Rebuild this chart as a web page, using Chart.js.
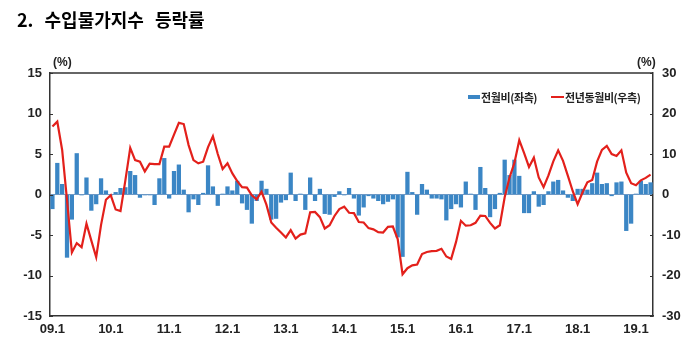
<!DOCTYPE html>
<html><head><meta charset="utf-8">
<script src="https://cdn.jsdelivr.net/npm/chart.js@4/dist/chart.umd.min.js"></script>
<style>
html,body{margin:0;padding:0;background:#fff;}
#wrap{position:relative;width:696px;height:353px;overflow:hidden;background:#fff;}
canvas{position:absolute;left:0;top:0;}
.t{position:absolute;white-space:nowrap;color:#111;}
#title{left:17px;top:10px;font:700 18px/18px 'Noto Sans CJK KR',sans-serif;word-spacing:7px;color:#000;}
.pct{top:56px;font:700 12px/12px 'Liberation Sans Narrow','Liberation Sans',Arial,sans-serif;color:#222;}
.lg{top:91px;font:700 11px/12px 'Noto Sans CJK KR',sans-serif;letter-spacing:-0.4px;color:#222;}
</style></head>
<body><div id="wrap">
<canvas id="c" width="696" height="353"></canvas>
<div class="t" id="title">2. 수입물가지수 등락률</div>
<div class="t pct" style="left:53px">(%)</div>
<div class="t pct" style="left:637px">(%)</div>
<div style="position:absolute;left:468px;top:95px;width:12px;height:4px;background:#3b86c5"></div>
<div class="t lg" style="left:481px">전월비(좌측)</div>
<div style="position:absolute;left:551px;top:96px;width:13px;height:2px;background:#e3201b"></div>
<div class="t lg" style="left:565px">전년동월비(우측)</div>
</div>
<script>
// categories: monthly, 2009.01 - 2019.04
const years = ['09','10','11','12','13','14','15','16','17','18','19'];
const monthsInLastYear = 4;
const categories = [];
years.forEach((y, yi) => {
  const n = yi === years.length - 1 ? monthsInLastYear : 12;
  for (let m = 1; m <= n; m++) categories.push(y + '.' + m);
});

// 전월비 (left axis, %)
const mom = [
  -1.8, 3.9, 1.3, -7.8, -3.1, 5.1, -0.1, 2.1, -2.0, -1.2, 2.0, 0.5,
  -0.1, 0.3, 0.8, 0.9, 2.9, 2.4, -0.4, -0.1, -0.1, -1.3, 2.0, 4.5,
  -0.5, 2.9, 3.7, 0.6, -2.2, -0.6, -1.3, 0.2, 3.6, 1.0, -1.4, 0.1,
  1.0, 0.5, 1.7, -1.1, -1.9, -3.6, -0.8, 1.7, 0.7, -3.1, -3.0, -1.0,
  -0.7, 2.7, -0.8, 0.1, -1.9, 2.1, -0.8, 0.7, -2.4, -2.5, -0.3, 0.4,
  -0.1, 0.8, -0.5, -2.6, -1.6, -0.2, -0.5, -0.8, -1.2, -0.9, -0.6, -5.3,
  -7.7, 2.8, 0.3, -2.5, 1.3, 0.6, -0.5, -0.5, -0.6, -3.2, -1.8, -1.2,
  -1.6, 1.6, 0.1, -1.9, 3.4, 0.8, -2.8, -1.8, 0.2, 4.3, 2.4, 4.3,
  2.3, -2.3, -2.3, 0.4, -1.5, -1.3, 0.4, 1.6, 1.8, 0.5, -0.4, -0.8,
  0.7, 0.7, 0.6, 1.4, 2.7, 1.3, 1.4, -0.2, 1.5, 1.6, -4.5, -3.6,
  0.1, 1.7, 1.3, 1.5
];

// 전년동월비 (right axis, %)
const yoy = [
  16.8, 18.0, 11.0, -1.4, -14.3, -12.0, -13.0, -7.2, -11.4, -15.5, -7.5, -1.3,
  -0.2, -3.7, -4.1, 3.5, 11.5, 8.5, 8.1, 5.7, 7.6, 7.5, 7.5, 11.8,
  11.8, 14.8, 17.7, 17.4, 12.2, 8.5, 7.7, 8.1, 11.7, 14.4, 10.0, 6.3,
  7.7, 5.2, 3.3, 1.8, 1.7, -0.2, -1.2, 0.7, -2.5, -6.9, -8.2, -9.4,
  -10.6, -8.8, -10.9, -9.9, -9.6, -4.4, -4.3, -5.6, -8.4, -7.6, -5.3, -3.6,
  -3.0, -4.5, -4.6, -6.8, -6.9, -8.3, -8.6, -9.3, -9.4, -8.0, -7.9, -11.0,
  -19.7, -18.2, -17.5, -17.3, -14.7, -14.2, -14.0, -13.9, -13.4, -15.3, -15.9, -11.7,
  -6.5, -7.7, -7.6, -7.0, -5.2, -5.3, -7.0, -8.4, -7.6, -0.7, 4.2, 7.8,
  13.4, 10.2, 6.8, 9.1, 4.2, 1.8, 4.7, 8.2, 10.9, 8.3, 4.6, 0.8,
  -2.4, 0.5, 3.0, 3.6, 8.1, 11.0, 12.0, 10.0, 9.5, 10.9, 5.4, 2.8,
  2.3, 3.5, 4.1, 4.9
];

const leftTicks = { min: -15, max: 15, step: 5 };
const rightTicks = { min: -30, max: 30, step: 10 };

const tickFont = { family: "'Liberation Sans Narrow','Liberation Sans',Arial,sans-serif", size: 13, weight: 'bold' };

const frame = {
  id: 'frame',
  afterDraw(chart) {
    const { ctx, chartArea: a, scales } = chart;
    ctx.save();
    ctx.strokeStyle = '#333';
    ctx.lineWidth = 1.5;
    ctx.beginPath();
    ctx.moveTo(a.left, a.top); ctx.lineTo(a.right, a.top);
    ctx.stroke();
    ctx.lineWidth = 1;
    ctx.beginPath();
    scales.yL.ticks.forEach(t => {
      const y = Math.round(scales.yL.getPixelForValue(t.value)) + 0.5;
      ctx.moveTo(a.left, y); ctx.lineTo(a.left + 3, y);
    });
    scales.yR.ticks.forEach(t => {
      const y = Math.round(scales.yR.getPixelForValue(t.value)) + 0.5;
      ctx.moveTo(a.right, y); ctx.lineTo(a.right - 3, y);
    });
    ctx.stroke();
    ctx.restore();
  }
};

new Chart(document.getElementById('c'), {
  type: 'bar',
  data: {
    labels: categories,
    datasets: [
      { type: 'line', label: '전년동월비(우측)', data: yoy, yAxisID: 'yR',
        borderColor: '#e3201b', borderWidth: 2.2, pointRadius: 0, tension: 0, order: 0 },
      { type: 'bar', label: '전월비(좌측)', data: mom, yAxisID: 'yL',
        backgroundColor: '#3b86c5', barPercentage: 0.88, categoryPercentage: 1, order: 1 }
    ]
  },
  options: {
    responsive: false, animation: false, devicePixelRatio: 1,
    layout: { padding: { top: 73, left: 0, right: 0, bottom: 0 } },
    plugins: { legend: { display: false }, tooltip: { enabled: false } },
    scales: {
      x: {
        grid: { display: false, drawTicks: false },
        border: { display: true, color: '#333', width: 1.5 },
        ticks: { autoSkip: false, maxRotation: 0, minRotation: 0, padding: 6, font: tickFont, color: '#222',
          callback: (v, i) => categories[i].endsWith('.1') ? categories[i] : '' },
        afterFit: s => { s.height = 37; }
      },
      yL: {
        position: 'left', min: leftTicks.min, max: leftTicks.max,
        ticks: { stepSize: leftTicks.step, font: tickFont, color: '#222', padding: 8 },
        grid: { drawTicks: false, lineWidth: 1, color: c => c.tick.value === 0 ? '#6b98c6' : 'rgba(0,0,0,0)' },
        border: { display: true, color: '#333', width: 1.5 },
        afterFit: s => { s.width = 50; }
      },
      yR: {
        position: 'right', min: rightTicks.min, max: rightTicks.max,
        ticks: { stepSize: rightTicks.step, font: tickFont, color: '#222', padding: 9 },
        grid: { display: false, drawTicks: false },
        border: { display: true, color: '#333', width: 1.5 },
        afterFit: s => { s.width = 43; }
      }
    }
  },
  plugins: [frame]
});
</script>
</body></html>
